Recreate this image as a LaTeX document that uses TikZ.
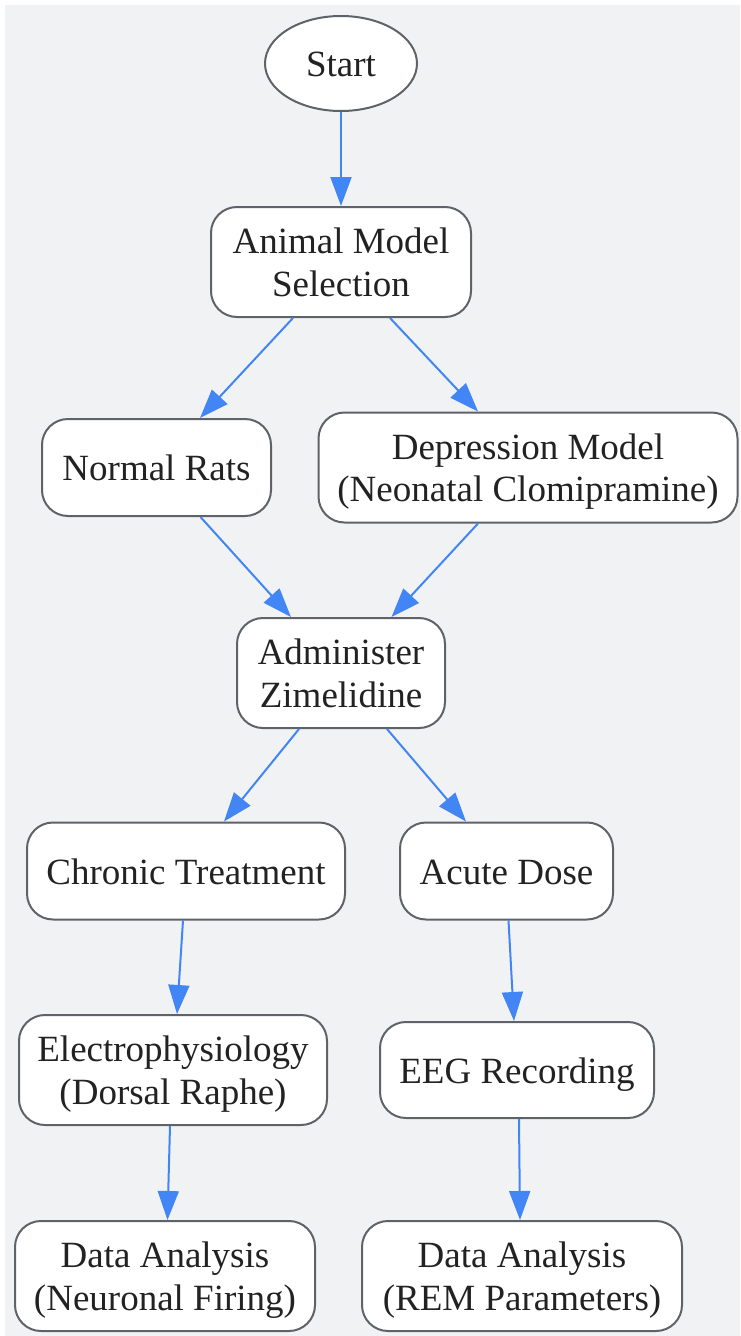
\documentclass[tikz,border=0pt]{standalone}
\usepackage{fontspec}
\setmainfont{Liberation Serif}
\usepackage{xcolor}
\definecolor{mybackground}{RGB}{241,242,244}
\definecolor{myborder}{RGB}{95,99,104}
\definecolor{myblue}{RGB}{66,133,244}
\definecolor{mytext}{RGB}{34,34,34}
\usepackage{tikz}
\usetikzlibrary{arrows.meta}
\usetikzlibrary{shapes.geometric}
\newcommand{\heightsingle}{97pt}
\newcommand{\heightdouble}{110pt}
\tikzset{
    common/.style={draw=myborder, line width=2pt, fill=white, text=mytext, align=center,
                   inner sep=0pt, font=\fontsize{37}{42.5}\selectfont,
                   text height=34pt, text depth=8pt},
    terminal/.style={common, ellipse, minimum width=152pt, minimum height=95pt},
    stage/.style={common, rectangle, rounded corners=26pt, minimum height=\heightsingle},
    stagetwo/.style={stage, minimum height=\heightdouble, text height=76.5pt},
    flow/.style={-{Triangle[length=29pt, width=21pt]}, myblue, line width=2pt}
}
\begin{document}
\begin{tikzpicture}[x=1pt, y=-1pt]
            \useasboundingbox (0,0) rectangle (740,1336);
            \fill[mybackground] (5,5) rectangle (740,1336);

            \path
                (341, 63.5) node[terminal] (start) {Start}
                (341, 262) node[stagetwo, minimum width=260pt] (selection) {Animal Model\\Selection}
                (156.5, 467.5) node[stage, minimum width=229pt] (normal) {Normal Rats}
                (528, 467.5) node[stagetwo, minimum width=419pt] (depression) {Depression Model\\(Neonatal Clomipramine)}
                (341, 673) node[stagetwo, minimum width=208pt] (zimelidine) {Administer\\Zimelidine}
                (186, 871) node[stage, minimum width=318pt] (chronic) {Chronic Treatment}
                (506.5, 871) node[stage, minimum width=213pt] (acute) {Acute Dose}
                (173, 1070) node[stagetwo, minimum width=308pt] (electro) {Electrophysiology\\(Dorsal Raphe)}
                (517, 1070) node[stage, minimum width=274pt, minimum height=96pt] (eeg) {EEG Recording}
                (165, 1276) node[stagetwo, minimum width=300pt] (firing) {Data Analysis\\(Neuronal Firing)}
                (522, 1276) node[stagetwo, minimum width=320pt] (rem) {Data Analysis\\(REM Parameters)};

            \draw[flow] (start.south) -- (selection.north);
            \draw[flow] ([xshift=-48pt]selection.south) -- ([xshift=43.5pt]normal.north);
            \draw[flow] ([xshift=49pt]selection.south) -- ([xshift=-50pt]depression.north);
            \draw[flow] ([xshift=44pt]normal.south) -- ([xshift=-50pt]zimelidine.north);
            \draw[flow] ([xshift=-50pt]depression.south) -- ([xshift=50.5pt]zimelidine.north);
            \draw[flow] ([xshift=-42pt]zimelidine.south) -- ([xshift=38pt]chronic.north);
            \draw[flow] ([xshift=46pt]zimelidine.south) -- ([xshift=-40.5pt]acute.north);
            \draw[flow] ([xshift=-3pt]chronic.south) -- ([xshift=4pt]electro.north);
            \draw[flow] ([xshift=2pt]acute.south) -- ([xshift=-3pt]eeg.north);
            \draw[flow] ([xshift=-3pt]electro.south) -- ([xshift=2.5pt]firing.north);
            \draw[flow] ([xshift=2pt]eeg.south) -- ([xshift=-2pt]rem.north);
        \end{tikzpicture}
\end{document}
